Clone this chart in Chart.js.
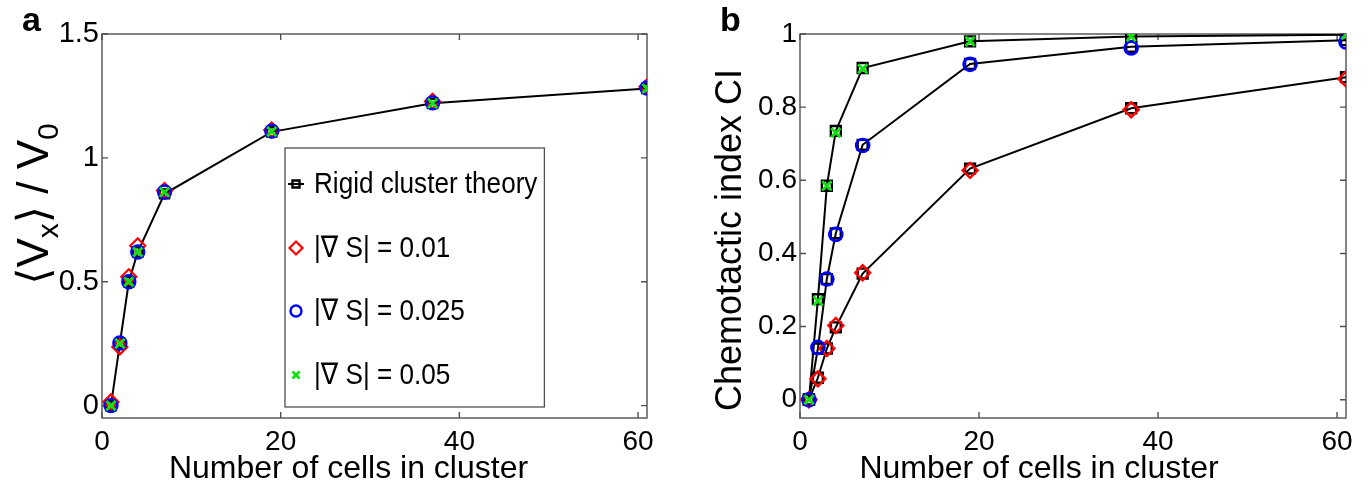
<!DOCTYPE html>
<html><head><meta charset="utf-8">
<script src="https://cdn.jsdelivr.net/npm/chart.js@4/dist/chart.umd.min.js"></script>
<style>
html,body{margin:0;padding:0;background:#fff;width:1371px;height:491px;overflow:hidden}
.box{position:absolute;top:0;height:491px}
#wa{left:0;width:690px}
#wb{left:690px;width:681px}
canvas{display:block}
</style></head><body>
<div id="wa" class="box"><canvas id="ca"></canvas></div>
<div id="wb" class="box"><canvas id="cb"></canvas></div>
<script>
// ---------- data ----------
const cellCounts = [1, 2, 3, 4, 7, 19, 37, 61];

// panel a : mean velocity <Vx>/V0
const velTheory = [0, 0.25, 0.50, 0.62, 0.855, 1.105, 1.22, 1.28];
const velS001   = [0.015, 0.237, 0.52, 0.645, 0.868, 1.112, 1.228, 1.287];
const velS0025  = [0, 0.253, 0.50, 0.62, 0.862, 1.108, 1.222, 1.282];
const velS005   = [0, 0.25, 0.50, 0.62, 0.862, 1.106, 1.22, 1.28];

// panel b : chemotactic index CI
const ciTheory001  = [0, 0.060, 0.140, 0.198, 0.345, 0.632, 0.797, 0.882];
const ciTheory0025 = [0, 0.140, 0.330, 0.455, 0.697, 0.918, 0.965, 0.983];
const ciTheory005  = [0, 0.275, 0.585, 0.735, 0.907, 0.980, 0.993, 0.998];
const ciS001  = [0, 0.057, 0.140, 0.203, 0.347, 0.627, 0.793, 0.877];
const ciS0025 = [0, 0.143, 0.330, 0.452, 0.695, 0.917, 0.962, 0.978];
const ciS005  = [0, 0.270, 0.585, 0.730, 0.905, 0.980, 0.993, 0.998];

const seriesLabels = ['Rigid cluster theory', '|\u2207 S| = 0.01', '|\u2207 S| = 0.025', '|\u2207 S| = 0.05'];
const xTicks = [0, 20, 40, 60];
const xTickLabels = ['0', '20', '40', '60'];
const yTicksA = [0, 0.5, 1, 1.5];
const yTickLabelsA = ['0', '0.5', '1', '1.5'];
const yTicksB = [0, 0.2, 0.4, 0.6, 0.8, 1];
const yTickLabelsB = ['0', '0.2', '0.4', '0.6', '0.8', '1'];
const xTitle = 'Number of cells in cluster';
const yTitleB = 'Chemotactic index CI';

// ---------- helpers ----------
const FONT = "'Liberation Sans', Arial, Helvetica, 'DejaVu Sans', sans-serif";
const RED = '#ff0000', BLUE = '#0000ff', GREEN = '#10e010', BLACK = '#000000';
const pts = arr => cellCounts.map((x, i) => ({x: x, y: arr[i]}));

function theorySet(label, arr, r) {
  return {label: label, data: pts(arr), showLine: true, borderColor: BLACK, borderWidth: 2,
    pointStyle: 'rect', pointRadius: r, pointBorderWidth: 2.4, pointBorderColor: BLACK,
    pointBackgroundColor: 'rgba(0,0,0,0)', order: 10};
}
function simSet(label, arr, style, color, r, bw, order) {
  return {label: label, data: pts(arr), showLine: false, borderColor: color,
    pointStyle: style, pointRadius: r, pointBorderWidth: bw, pointBorderColor: color,
    pointBackgroundColor: 'rgba(0,0,0,0)', order: order};
}

const frameTicks = {
  id: 'frameTicks',
  beforeDatasetsDraw(chart) {
    const {ctx, chartArea: a, scales: {x, y}} = chart;
    ctx.save();
    ctx.strokeStyle = '#505050';
    ctx.lineWidth = 1.4;
    ctx.strokeRect(a.left, a.top, a.right - a.left, a.bottom - a.top);
    ctx.beginPath();
    const L = 6;
    x.ticks.forEach(t => {
      const p = x.getPixelForValue(t.value);
      ctx.moveTo(p, a.bottom); ctx.lineTo(p, a.bottom - L);
      ctx.moveTo(p, a.top); ctx.lineTo(p, a.top + L);
    });
    y.ticks.forEach(t => {
      const p = y.getPixelForValue(t.value);
      ctx.moveTo(a.left, p); ctx.lineTo(a.left + L, p);
      ctx.moveTo(a.right, p); ctx.lineTo(a.right - L, p);
    });
    ctx.stroke();
    ctx.restore();
  }
};

const annot = {
  id: 'annot',
  afterDraw(chart, args, o) {
    const {ctx, chartArea: a} = chart;
    ctx.save();
    ctx.fillStyle = '#000';
    // panel letter
    ctx.font = 'bold 34px ' + FONT;
    ctx.textAlign = 'left'; ctx.textBaseline = 'alphabetic';
    ctx.fillText(o.letter, o.letterX, 31);
    // x title
    ctx.font = o.xTitleSize + 'px ' + FONT;
    ctx.textAlign = 'center';
    ctx.fillText(xTitle, (a.left + a.right) / 2 + o.xTitleShift, 478);
    // y title
    ctx.save();
    ctx.translate(o.yTitleX, (a.top + a.bottom) / 2 + o.yTitleShift);
    ctx.rotate(-Math.PI / 2);
    ctx.textAlign = 'left';
    let total = 0;
    o.yPieces.forEach(p => { ctx.font = p[1] + 'px ' + FONT; total += ctx.measureText(p[0]).width; });
    let cx = -total / 2;
    o.yPieces.forEach(p => {
      ctx.font = p[1] + 'px ' + FONT;
      ctx.fillText(p[0], cx, p[2]);
      cx += ctx.measureText(p[0]).width;
    });
    ctx.restore();
    // legend
    if (o.legend) {
      const L = o.legend;
      ctx.font = L.size + 'px ' + FONT;
      const ds = chart.data.datasets;
      let maxW = 0;
      ds.forEach(d => { maxW = Math.max(maxW, ctx.measureText(d.label).width * L.squeeze); });
      const right = L.textX + maxW + 7;
      ctx.fillStyle = '#fff';
      ctx.fillRect(L.left, L.top, right - L.left, L.bottom - L.top);
      ctx.strokeStyle = '#505050'; ctx.lineWidth = 1.3;
      ctx.strokeRect(L.left, L.top, right - L.left, L.bottom - L.top);
      ds.forEach((d, i) => {
        const yy = L.rows[i];
        ctx.strokeStyle = d.pointBorderColor;
        ctx.fillStyle = 'rgba(0,0,0,0)';
        if (d.showLine) {
          ctx.lineWidth = 2;
          ctx.beginPath(); ctx.moveTo(L.markX - 8, yy); ctx.lineTo(L.markX + 8, yy); ctx.stroke();
        }
        ctx.lineWidth = d.pointBorderWidth;
        Chart.helpers.drawPoint(ctx, {pointStyle: d.pointStyle, radius: L.radius[i], borderWidth: d.pointBorderWidth, rotation: 0}, L.markX, yy);
        ctx.save();
        ctx.fillStyle = '#000';
        ctx.textAlign = 'left'; ctx.textBaseline = 'middle';
        ctx.translate(L.textX, yy + 1);
        ctx.scale(L.squeeze, 1);
        ctx.fillText(d.label, 0, 0);
        ctx.restore();
      });
    }
    ctx.restore();
  }
};

function baseOptions(yMin, yMax, yTicks, yLabels, yWidth, padRight, tickSize, annotOpts) {
  return {
    responsive: true, maintainAspectRatio: false, animation: false,
    layout: {padding: {top: 34, right: padRight, left: 0, bottom: 0}},
    plugins: {legend: {display: false}, tooltip: {enabled: false}, annot: annotOpts},
    scales: {
      x: {type: 'linear', min: 0, max: 61,
        afterBuildTicks: s => { s.ticks = xTicks.map(v => ({value: v})); },
        afterFit: s => { s.height = 73; },
        grid: {display: false, drawTicks: false}, border: {display: false},
        ticks: {color: '#000', font: {size: 28, family: FONT}, padding: 7, maxRotation: 0, autoSkip: false,
          callback: (v, i) => xTickLabels[i]}},
      y: {type: 'linear', min: yMin, max: yMax,
        afterBuildTicks: s => { s.ticks = yTicks.map(v => ({value: v})); },
        afterFit: s => { s.width = yWidth; },
        grid: {display: false, drawTicks: false}, border: {display: false},
        ticks: {color: '#000', font: {size: tickSize, family: FONT}, padding: 3, autoSkip: false,
          callback: (v, i) => yLabels[i]}}
    }
  };
}

// ---------- panel a ----------
new Chart(document.getElementById('ca'), {
  type: 'line',
  data: {datasets: [
    theorySet(seriesLabels[0], velTheory, 6.5),
    simSet(seriesLabels[1], velS001, 'rectRot', RED, 7.5, 2.2, 3),
    simSet(seriesLabels[2], velS0025, 'circle', BLUE, 6.5, 2.4, 2),
    simSet(seriesLabels[3], velS005, 'crossRot', GREEN, 6.5, 2.8, 1)
  ]},
  options: baseOptions(-0.05, 1.5, yTicksA, yTickLabelsA, 102, 43, 29, {
    letter: 'a', letterX: 22, xTitleSize: 32, xTitleShift: -26, yTitleX: 48, yTitleShift: -22,
    yPieces: [['\u27E8V', 44, 0], ['x', 30, 10], ['\u27E9 / V', 44, 0], ['0', 30, 10]],
    legend: {left: 285, top: 148, bottom: 407, markX: 296, textX: 314, size: 30, squeeze: 0.87,
      rows: [184, 248, 311, 375], radius: [5, 6.5, 5.5, 5]}
  }),
  plugins: [frameTicks, annot]
});

// ---------- panel b ----------
new Chart(document.getElementById('cb'), {
  type: 'line',
  data: {datasets: [
    theorySet(seriesLabels[0], ciTheory001, 7),
    theorySet(seriesLabels[0], ciTheory0025, 7),
    theorySet(seriesLabels[0], ciTheory005, 7),
    simSet(seriesLabels[1], ciS001, 'rectRot', RED, 7.5, 2.4, 3),
    simSet(seriesLabels[2], ciS0025, 'circle', BLUE, 6.5, 2.6, 2),
    simSet(seriesLabels[3], ciS005, 'crossRot', GREEN, 6.5, 2.8, 1)
  ]},
  options: baseOptions(-0.05, 1, yTicksB, yTickLabelsB, 110, 25, 28, {
    letter: 'b', letterX: 30, xTitleSize: 32, xTitleShift: -34, yTitleX: 51, yTitleShift: 14,
    yPieces: [[yTitleB, 36, 0]], legend: null
  }),
  plugins: [frameTicks, annot]
});
</script>
</body></html>
